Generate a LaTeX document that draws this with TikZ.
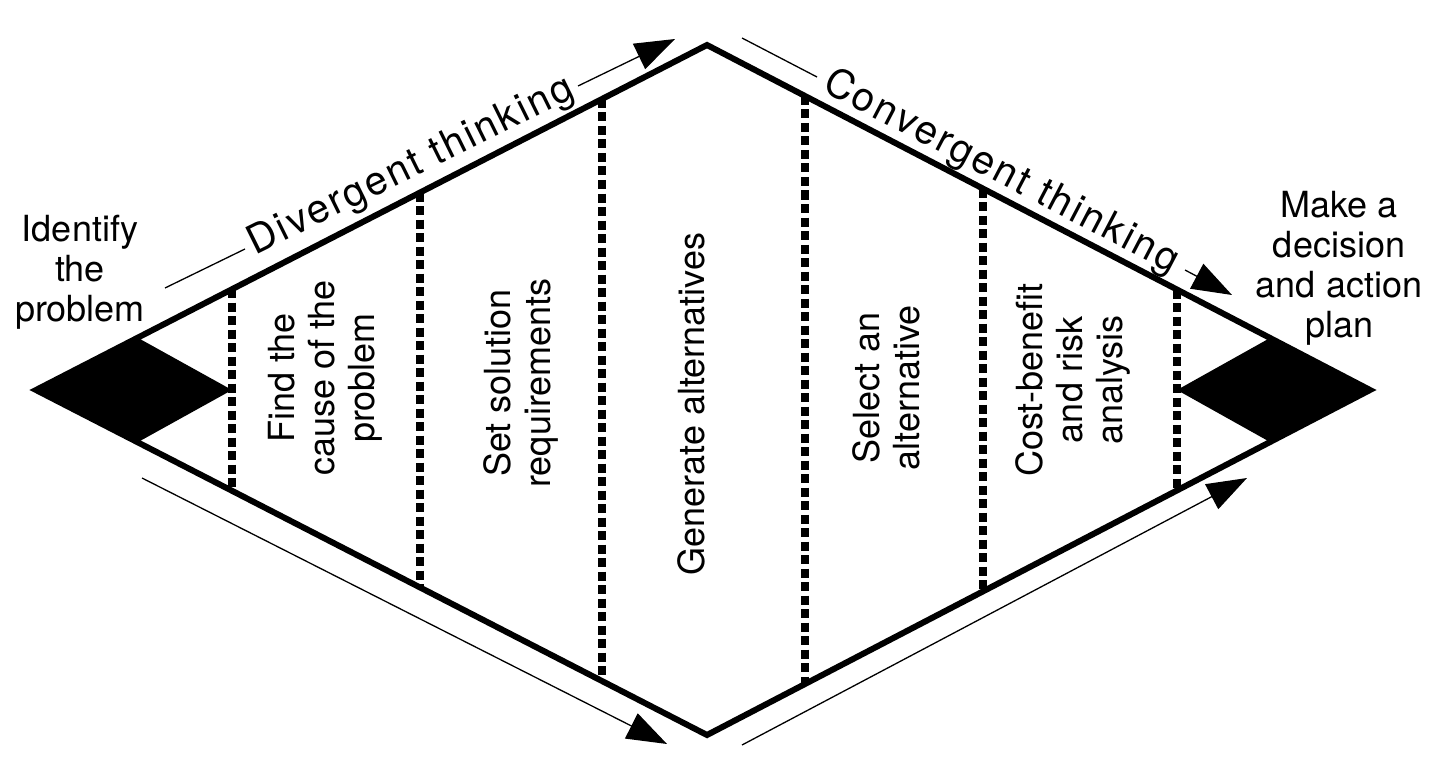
\documentclass[tikz,border=0pt]{standalone}
\usepackage{fontspec}
\setmainfont{TeX Gyre Heros}
\newfontfamily\spacedfont[LetterSpace=6]{TeX Gyre Heros}
\usetikzlibrary{arrows.meta}
\begin{document}
\begin{tikzpicture}[x=1pt,y=-1pt,
  edge/.style={line width=6pt, line join=miter},
  divider/.style={line width=8.5pt, dash pattern=on 9pt off 4.5pt},
  flow/.style={line width=1.3pt},
  flowtip/.style={flow, -{Triangle[length=40pt,width=28pt]}},
  lbl/.style={font=\fontsize{36}{40}\selectfont, align=center, inner sep=0pt},
  stagelbl/.style={lbl, rotate=90},
  phase/.style={font=\spacedfont\fontsize{40}{44}\selectfont, inner sep=0pt}
]
\useasboundingbox (0,0) rectangle (1439,770);

% outer diamond
\coordinate (L) at (36,390);
\coordinate (T) at (707,45);
\coordinate (R) at (1370,390);
\coordinate (B) at (707,735);

% dividers
\coordinate (d1t) at (232,289.2); \coordinate (d1b) at (232,490.8);
\coordinate (d2t) at (420,192.5); \coordinate (d2b) at (420,587.5);
\coordinate (d3t) at (602,99);    \coordinate (d3b) at (602,681);
\coordinate (d4t) at (805,96);    \coordinate (d4b) at (805,684);
\coordinate (d5t) at (983,188.6); \coordinate (d5b) at (983,591.4);
\coordinate (d6t) at (1177,289.6);\coordinate (d6b) at (1177,490.4);
\foreach \i in {1,...,6} \draw[divider] (d\i t) -- (d\i b);

\draw[edge] (L) -- (T) -- (R) -- (B) -- cycle;

% black tips
\coordinate (lt) at (138,337.9); \coordinate (lb) at (138,442.1); \coordinate (lr) at (232,390);
\coordinate (rt) at (1270,338);  \coordinate (rb) at (1270,442);  \coordinate (rl) at (1177,390);
\fill[black] (L) -- (lt) -- (lr) -- (lb) -- cycle;
\fill[black] (R) -- (rt) -- (rl) -- (rb) -- cycle;

% flow arrows
\coordinate (a1s) at (165,288); \coordinate (a1m) at (245,249);
\coordinate (a1n) at (578,86);  \coordinate (a1e) at (675,39);
\draw[flow] (a1s) -- (a1m);
\draw[flowtip] (a1n) -- (a1e);
\node[phase, rotate=26.3] (div) at (411.5,167) {Divergent thinking};

\coordinate (a2s) at (742,38);  \coordinate (a2m) at (817,77);
\coordinate (a2n) at (1185,270);\coordinate (a2e) at (1232,295);
\draw[flow] (a2s) -- (a2m);
\draw[flowtip] (a2n) -- (a2e);
\node[phase, rotate=-27.6] (conv) at (1001,172.5) {Convergent thinking};

\coordinate (a3s) at (142,478); \coordinate (a3e) at (667,744);
\draw[flowtip] (a3s) -- (a3e);
\coordinate (a4s) at (742,745); \coordinate (a4e) at (1247,478);
\draw[flowtip] (a4s) -- (a4e);

% labels
\node[lbl] (identify) at (80,272) {Identify\\the\\problem};
\node[lbl] (decide) at (1339,268) {Make a\\decision\\and action\\plan};

\node[stagelbl] (s1) at (325.5,378) {Find the\\cause of the\\problem};
\node[stagelbl] (s2) at (520.5,383) {Set solution\\requirements};
\node[stagelbl] (s3) at (691.5,404) {Generate alternatives};
\node[stagelbl] (s4) at (886,388) {Select an\\alternative};
\node[stagelbl] (s5) at (1073,380) {Cost-benefit\\and risk\\analysis};
\end{tikzpicture}
\end{document}
